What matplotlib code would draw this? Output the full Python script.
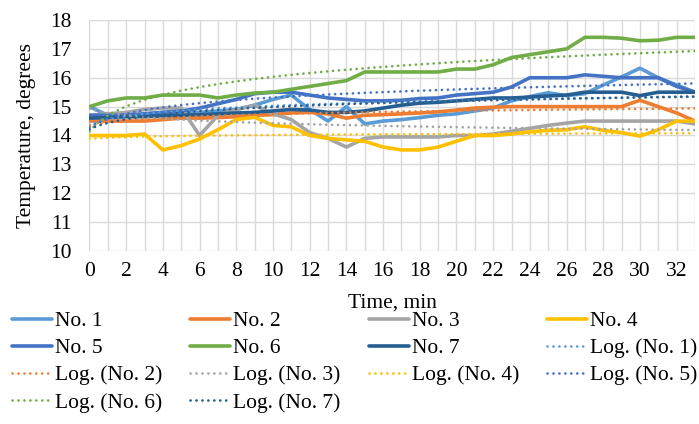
import numpy as np
import matplotlib
matplotlib.use("Agg")
import matplotlib.pyplot as plt
from matplotlib.ticker import MultipleLocator

# minutes 0..33
minutes = list(range(34))

no1 = [15.0, 14.7, 14.7, 14.75, 14.8, 14.8, 14.8, 14.85, 14.9, 15.05, 15.25, 15.4, 14.9, 14.5,
       15.0, 14.4, 14.5, 14.55, 14.62, 14.7, 14.75, 14.85, 14.95, 15.2, 15.35, 15.48, 15.38,
       15.45, 15.75, 16.03, 16.33, 16.0, 15.75, 15.5]
no2 = [14.5, 14.5, 14.5, 14.5, 14.55, 14.6, 14.6, 14.62, 14.65, 14.7, 14.72, 14.78, 14.8, 14.75,
       14.6, 14.7, 14.72, 14.75, 14.78, 14.82, 14.88, 14.95, 14.98, 15.0, 15.0, 15.0, 15.0,
       15.0, 15.0, 15.0, 15.22, 15.0, 14.78, 14.5]
no3 = [14.7, 14.75, 14.8, 14.9, 14.95, 14.95, 14.0, 14.7, 14.9, 15.05, 14.75, 14.55, 14.1, 13.9,
       13.6, 13.9, 13.95, 13.95, 13.95, 13.95, 14.0, 14.0, 14.05, 14.15, 14.25, 14.35, 14.43,
       14.5, 14.5, 14.5, 14.5, 14.5, 14.5, 14.4]
no4 = [14.0, 14.0, 14.0, 14.05, 13.5, 13.65, 13.88, 14.2, 14.55, 14.63, 14.35, 14.3, 14.0, 13.9,
       13.85, 13.8, 13.6, 13.5, 13.5, 13.6, 13.8, 14.0, 14.0, 14.05, 14.13, 14.18, 14.2,
       14.3, 14.18, 14.1, 13.98, 14.2, 14.5, 14.5]
no5 = [14.7, 14.7, 14.7, 14.75, 14.8, 14.85, 14.95, 15.1, 15.25, 15.45, 15.5, 15.5, 15.4, 15.3,
       15.25, 15.2, 15.2, 15.22, 15.28, 15.3, 15.4, 15.45, 15.5, 15.68, 16.0, 16.0, 16.0,
       16.1, 16.05, 16.0, 16.0, 16.0, 15.7, 15.5]
no6 = [15.0, 15.2, 15.3, 15.3, 15.4, 15.4, 15.4, 15.3, 15.4, 15.47, 15.5, 15.6, 15.7, 15.8,
       15.9, 16.2, 16.2, 16.2, 16.2, 16.2, 16.3, 16.3, 16.45, 16.7, 16.8, 16.9, 17.0,
       17.4, 17.4, 17.37, 17.28, 17.3, 17.4, 17.4]
no7 = [14.6, 14.62, 14.65, 14.65, 14.68, 14.7, 14.72, 14.75, 14.78, 14.8, 14.85, 14.9, 14.88, 14.8,
       14.8, 14.85, 14.95, 15.05, 15.12, 15.15, 15.2, 15.25, 15.3, 15.3, 15.33, 15.37, 15.4,
       15.5, 15.5, 15.5, 15.38, 15.5, 15.5, 15.5]

names = ["No. 1", "No. 2", "No. 3", "No. 4", "No. 5", "No. 6", "No. 7"]
series = [no1, no2, no3, no4, no5, no6, no7]
colors = ["#5B9BD5", "#ED7D31", "#A5A5A5", "#FFC000", "#4472C4", "#70AD47", "#255E91"]

plt.rcParams["font.family"] = ["Liberation Serif", "DejaVu Serif"]
plt.rcParams["font.size"] = 15.5

fig = plt.figure(figsize=(6.99, 4.24), dpi=100)
ax = fig.add_axes([89.5 / 699, 1 - 251 / 424, (695 - 89.5) / 699, 231 / 424])

x = np.array(minutes)
solid = []
for name, s, c in zip(names, series, colors):
    h, = ax.plot(x, s, color=c, lw=2.6, label=name, solid_capstyle="round", solid_joinstyle="round")
    solid.append(h)

# Excel style logarithmic trendlines, x = 1..n
trend = []
xi = x + 1
xf = np.linspace(1, len(x), 300)
for name, s, c in zip(names, series, colors):
    b, a = np.polyfit(np.log(xi), np.array(s), 1)
    h, = ax.plot(xf - 1, a + b * np.log(xf), color=c, lw=1.9, linestyle=(0, (0.05, 2.2)),
                 dash_capstyle="round", label="Log. (" + name + ")")
    trend.append(h)

ax.set_xlim(0, 33)
ax.set_ylim(10, 18)
ax.xaxis.set_major_locator(MultipleLocator(2))
ax.xaxis.set_minor_locator(MultipleLocator(1))
ax.yaxis.set_major_locator(MultipleLocator(1))
ax.grid(which="both", color="#D9D9D9", lw=1.0)
ax.set_axisbelow(True)
for sp in ax.spines.values():
    sp.set_visible(False)
ax.tick_params(which="both", length=0)
ax.tick_params(axis="x", pad=8)
ax.tick_params(axis="y", pad=13)
ax.set_xlabel("Time, min", labelpad=9)
ax.set_ylabel("Temperature, degrees", labelpad=10)

# row-major order like Excel, legend fills column-wise
handles = solid + trend
order = [0, 4, 8, 12, 1, 5, 9, 13, 2, 6, 10, 3, 7, 11]
hs = [handles[i] for i in order]
fig.legend(hs, [h.get_label() for h in hs], ncol=4, loc="upper left",
           bbox_to_anchor=(12 / 699, 1 - 311 / 424), frameon=False,
           handlelength=1.85, handletextpad=0.15, columnspacing=1.3,
           labelspacing=0.33, borderpad=0, borderaxespad=0)

fig.savefig("out.png", dpi=100)
